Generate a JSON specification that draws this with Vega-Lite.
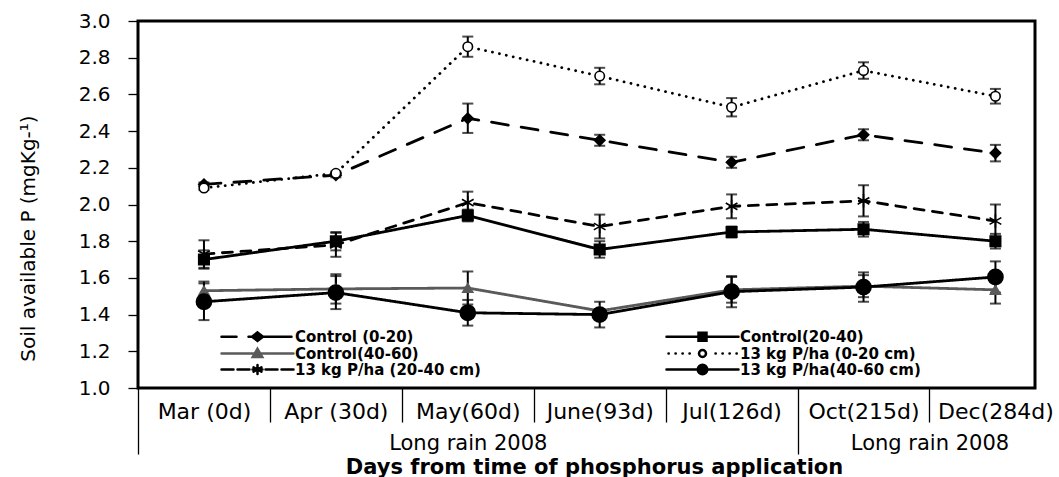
{
  "$schema": "https://vega.github.io/schema/vega-lite/v6.json",
  "width": 897,
  "height": 367,
  "autosize": {"type": "none"},
  "padding": {"left": 138, "top": 21, "right": 24, "bottom": 89},
  "background": "white",
  "config": {
    "view": {"stroke": "#000", "strokeWidth": 3},
    "axis": {"grid": false, "domain": false, "labelColor": "#000", "tickColor": "#000", "titleColor": "#000"}
  },
  "data": {
    "values": [
      {"series": "Control (0-20)", "t": 0, "value": 2.11, "err": 0.01},
      {"series": "Control (0-20)", "t": 1, "value": 2.16, "err": 0.012},
      {"series": "Control (0-20)", "t": 2, "value": 2.47, "err": 0.08},
      {"series": "Control (0-20)", "t": 3, "value": 2.35, "err": 0.03},
      {"series": "Control (0-20)", "t": 4, "value": 2.23, "err": 0.03},
      {"series": "Control (0-20)", "t": 5, "value": 2.38, "err": 0.03},
      {"series": "Control (0-20)", "t": 6, "value": 2.28, "err": 0.045},
      {"series": "Control(20-40)", "t": 0, "value": 1.70, "err": 0.05},
      {"series": "Control(20-40)", "t": 1, "value": 1.80, "err": 0.05},
      {"series": "Control(20-40)", "t": 2, "value": 1.94, "err": 0.032},
      {"series": "Control(20-40)", "t": 3, "value": 1.755, "err": 0.045},
      {"series": "Control(20-40)", "t": 4, "value": 1.85, "err": 0.03},
      {"series": "Control(20-40)", "t": 5, "value": 1.865, "err": 0.04},
      {"series": "Control(20-40)", "t": 6, "value": 1.80, "err": 0.04},
      {"series": "Control(40-60)", "t": 0, "value": 1.53, "err": 0.05},
      {"series": "Control(40-60)", "t": 1, "value": 1.54, "err": 0.08},
      {"series": "Control(40-60)", "t": 2, "value": 1.545, "err": 0.09},
      {"series": "Control(40-60)", "t": 3, "value": 1.42, "err": 0.01},
      {"series": "Control(40-60)", "t": 4, "value": 1.535, "err": 0.07},
      {"series": "Control(40-60)", "t": 5, "value": 1.555, "err": 0.06},
      {"series": "Control(40-60)", "t": 6, "value": 1.535, "err": 0.075},
      {"series": "13 kg P/ha (0-20 cm)", "t": 0, "value": 2.09, "err": 0.01},
      {"series": "13 kg P/ha (0-20 cm)", "t": 1, "value": 2.17, "err": 0.01},
      {"series": "13 kg P/ha (0-20 cm)", "t": 2, "value": 2.86, "err": 0.055},
      {"series": "13 kg P/ha (0-20 cm)", "t": 3, "value": 2.70, "err": 0.045},
      {"series": "13 kg P/ha (0-20 cm)", "t": 4, "value": 2.53, "err": 0.05},
      {"series": "13 kg P/ha (0-20 cm)", "t": 5, "value": 2.73, "err": 0.045},
      {"series": "13 kg P/ha (0-20 cm)", "t": 6, "value": 2.59, "err": 0.04},
      {"series": "13 kg P/ha (20-40 cm)", "t": 0, "value": 1.73, "err": 0.075},
      {"series": "13 kg P/ha (20-40 cm)", "t": 1, "value": 1.78, "err": 0.065},
      {"series": "13 kg P/ha (20-40 cm)", "t": 2, "value": 2.01, "err": 0.06},
      {"series": "13 kg P/ha (20-40 cm)", "t": 3, "value": 1.88, "err": 0.065},
      {"series": "13 kg P/ha (20-40 cm)", "t": 4, "value": 1.99, "err": 0.065},
      {"series": "13 kg P/ha (20-40 cm)", "t": 5, "value": 2.02, "err": 0.085},
      {"series": "13 kg P/ha (20-40 cm)", "t": 6, "value": 1.91, "err": 0.09},
      {"series": "13 kg P/ha(40-60 cm)", "t": 0, "value": 1.47, "err": 0.10},
      {"series": "13 kg P/ha(40-60 cm)", "t": 1, "value": 1.52, "err": 0.09},
      {"series": "13 kg P/ha(40-60 cm)", "t": 2, "value": 1.41, "err": 0.07},
      {"series": "13 kg P/ha(40-60 cm)", "t": 3, "value": 1.40, "err": 0.07},
      {"series": "13 kg P/ha(40-60 cm)", "t": 4, "value": 1.525, "err": 0.085},
      {"series": "13 kg P/ha(40-60 cm)", "t": 5, "value": 1.55, "err": 0.08},
      {"series": "13 kg P/ha(40-60 cm)", "t": 6, "value": 1.605, "err": 0.085}
    ]
  },
  "layer": [
    {
      "mark": {"type": "line", "strokeWidth": 2.8, "strokeCap": "round"},
      "encoding": {
        "x": {
          "field": "t", "type": "quantitative",
          "scale": {"domain": [-0.5, 6.3], "nice": false, "zero": false},
          "axis": {
            "orient": "bottom",
            "values": [0, 0.5, 1, 1.5, 2, 2.5, 3, 3.5, 4, 5, 5.5, 6],
            "tickSize": 34, "tickWidth": 1.3,
            "tickOpacity": {"condition": {"test": "datum.value % 1 === 0", "value": 0}, "value": 1},
            "labelExpr": "datum.value % 1 === 0 ? ['Mar (0d)','Apr (30d)','May(60d)','June(93d)','Jul(126d)','Oct(215d)','Dec(284d)'][datum.value] : ''",
            "labelFont": "DejaVu Sans", "labelFontSize": 22,
            "labelBaseline": "alphabetic", "labelPadding": -4,
            "labelOverlap": false, "labelFlush": false, "labelBound": false,
            "title": null
          }
        },
        "y": {
          "field": "value", "type": "quantitative",
          "scale": {"domain": [1, 3], "nice": false, "zero": false},
          "axis": null
        },
        "color": {
          "field": "series", "type": "nominal",
          "scale": {
            "domain": ["Control (0-20)", "Control(20-40)", "Control(40-60)", "13 kg P/ha (0-20 cm)", "13 kg P/ha (20-40 cm)", "13 kg P/ha(40-60 cm)"],
            "range": ["#000000", "#000000", "#5a5a5a", "#000000", "#000000", "#000000"]
          },
          "legend": {
            "orient": "none", "legendX": 112, "legendY": 308,
            "direction": "horizontal",
            "columns": 2, "columnPadding": 180, "rowPadding": -11,
            "title": null, "padding": 0,
            "symbolSize": 100, "symbolStrokeWidth": 2.5,
            "labelFont": "DejaVu Sans", "labelFontSize": 15, "labelFontWeight": "bold",
            "labelOffset": 30, "labelColor": "#000", "labelLimit": 400,
            "encode": {
              "symbols": {
                "update": {
                  "shape": {"signal": "datum.value === 'Control (0-20)' ? 'M-7.2,0H-4.2M-1.8,0H6.8M0,-0.85L1.1,0L0,0.85L-1.1,0Z' : datum.value === 'Control(20-40)' ? 'M-7.2,0H7.2M-0.8,-0.8H0.8V0.8H-0.8Z' : datum.value === 'Control(40-60)' ? 'M-7.2,0H7.2M0,-0.95L0.95,0.7H-0.95Z' : datum.value === '13 kg P/ha (0-20 cm)' ? 'M-6.8,0h0.05M-5.4,0h0.05M-4,0h0.05M-2.6,0h0.05M2.6,0h0.05M4,0h0.05M5.4,0h0.05M6.8,0h0.05M0.7,0A0.7,0.7,0,1,1,-0.7,0A0.7,0.7,0,1,1,0.7,0Z' : datum.value === '13 kg P/ha (20-40 cm)' ? 'M-7.2,0H-4.8M-4,0H-1.6M1.6,0H4M4.8,0H7.2M-1,0H1M0,-0.9V0.9M-0.8,-0.45L0.8,0.45M-0.8,0.45L0.8,-0.45' : 'M-7.2,0H7.2M0.95,0A0.95,0.95,0,1,1,-0.95,0A0.95,0.95,0,1,1,0.95,0Z'"},
                  "fill": {"signal": "datum.value === '13 kg P/ha (0-20 cm)' ? '#ffffff' : datum.value === '13 kg P/ha (20-40 cm)' ? 'transparent' : datum.value === 'Control(40-60)' ? '#5a5a5a' : '#000000'"},
                  "stroke": {"signal": "datum.value === 'Control(40-60)' ? '#5a5a5a' : '#000000'"},
                  "strokeWidth": {"value": 2.5},
                  "strokeCap": {"value": "round"},
                  "size": {"value": 100},
                  "opacity": {"value": 1}
                }
              }
            }
          }
        },
        "strokeDash": {
          "field": "series", "type": "nominal",
          "scale": {
            "domain": ["13 kg P/ha (0-20 cm)", "13 kg P/ha (20-40 cm)", "13 kg P/ha(40-60 cm)", "Control (0-20)", "Control(20-40)", "Control(40-60)"],
            "range": [[0.1, 7], [10, 8.5], [1, 0], [17, 13], [1, 0], [1, 0]]
          },
          "legend": null
        }
      }
    },
    {
      "mark": {
        "type": "errorbar",
        "color": "#000",
        "ticks": {"size": 11, "thickness": 2, "color": "#000"},
        "rule": {"strokeWidth": 2, "color": "#000"}
      },
      "encoding": {
        "x": {"field": "t", "type": "quantitative", "axis": null},
        "y": {"field": "value", "type": "quantitative", "scale": {"domain": [1, 3], "nice": false, "zero": false}, "axis": null},
        "yError": {"field": "err"},
        "detail": {"field": "series", "type": "nominal"}
      }
    },
    {
      "mark": {"type": "point", "strokeWidth": 1.6, "opacity": 1},
      "encoding": {
        "x": {
          "field": "t", "type": "quantitative",
          "axis": {
            "orient": "bottom",
            "values": [-0.5, 2, 4.5, 5.5],
            "tickSize": 66, "tickWidth": 1.3,
            "tickOpacity": {"condition": {"test": "datum.value === 2 || datum.value === 5.5", "value": 0}, "value": 1},
            "labelExpr": "(datum.value === 2 || datum.value === 5.5) ? 'Long rain 2008' : ''",
            "labelFont": "DejaVu Sans", "labelFontSize": 21,
            "labelBaseline": "alphabetic", "labelPadding": -5,
            "labelOverlap": false, "labelFlush": false, "labelBound": false,
            "title": "Days from time of phosphorus application",
            "titleFont": "DejaVu Sans", "titleFontSize": 21, "titleFontWeight": "bold",
            "titleX": 456, "titleY": 85, "titleBaseline": "alphabetic", "titleAlign": "center"
          }
        },
        "y": {
          "field": "value", "type": "quantitative",
          "scale": {"domain": [1, 3], "nice": false, "zero": false},
          "axis": {
            "orient": "left",
            "values": [1, 1.2, 1.4, 1.6, 1.8, 2, 2.2, 2.4, 2.6, 2.8, 3],
            "format": ".1f",
            "tickSize": 10, "tickWidth": 1.3,
            "labelFont": "DejaVu Sans", "labelFontSize": 20, "labelPadding": 18,
            "title": "Soil available P (mgKg-¹)",
            "titleFont": "DejaVu Sans", "titleFontSize": 20, "titleFontWeight": "normal",
            "titleX": -100, "titleY": 217, "titleAngle": 270,
            "titleBaseline": "bottom", "titleAlign": "center"
          }
        },
        "color": {"field": "series", "type": "nominal"},
        "shape": {
          "field": "series", "type": "nominal",
          "scale": {
            "domain": ["13 kg P/ha (0-20 cm)", "13 kg P/ha (20-40 cm)", "13 kg P/ha(40-60 cm)", "Control (0-20)", "Control(20-40)", "Control(40-60)"],
            "range": ["circle", "M0,-1V1M-0.87,-0.5L0.87,0.5M-0.87,0.5L0.87,-0.5", "circle", "diamond", "square", "triangle-up"]
          },
          "legend": null
        },
        "fill": {
          "field": "series", "type": "nominal",
          "scale": {
            "domain": ["13 kg P/ha (0-20 cm)", "13 kg P/ha (20-40 cm)", "13 kg P/ha(40-60 cm)", "Control (0-20)", "Control(20-40)", "Control(40-60)"],
            "range": ["#ffffff", "transparent", "#000000", "#000000", "#000000", "#5a5a5a"]
          },
          "legend": null
        },
        "size": {
          "field": "series", "type": "nominal",
          "scale": {
            "type": "ordinal",
            "domain": ["13 kg P/ha (0-20 cm)", "13 kg P/ha (20-40 cm)", "13 kg P/ha(40-60 cm)", "Control (0-20)", "Control(20-40)", "Control(40-60)"],
            "range": [90, 180, 230, 110, 110, 100]
          },
          "legend": null
        }
      }
    }
  ],
  "resolve": {"axis": {"x": "independent", "y": "independent"}}
}
